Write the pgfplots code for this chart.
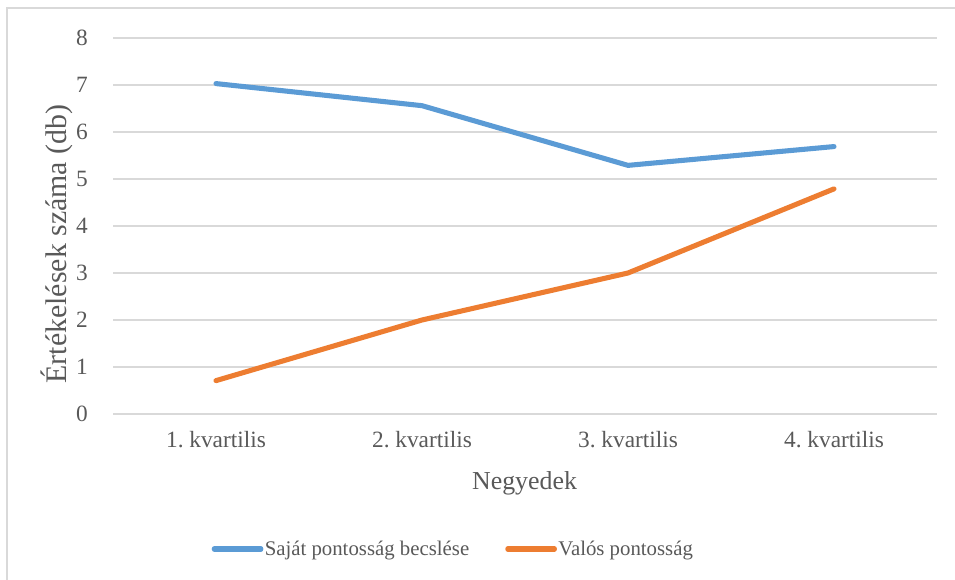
\documentclass[border=0pt]{standalone}
\usepackage{pgfplots}
\pgfplotsset{compat=1.18}
\usepackage{fontspec}
\setmainfont{Liberation Serif}
\frenchspacing
\definecolor{txt}{HTML}{595959}
\definecolor{gridc}{HTML}{D9D9D9}
\definecolor{sblue}{HTML}{5B9BD5}
\definecolor{sorange}{HTML}{ED7D31}
\begin{document}
\begin{tikzpicture}
\useasboundingbox (0,0) rectangle (716.25pt,435pt);
\draw[gridc, line width=1pt] (5.25pt,-5pt) -- (5.25pt,429pt) -- (720pt,429pt);
\begin{axis}[
  at={(84.75pt,124.5pt)}, anchor=south west,
  scale only axis, width=618pt, height=282pt,
  xmin=0.5, xmax=4.5, ymin=0, ymax=8,
  axis line style={draw=none},
  ytick={0,1,2,3,4,5,6,7,8},
  xtick={1,2,3,4},
  xticklabels={1. kvartilis,2. kvartilis,3. kvartilis,4. kvartilis},
  ymajorgrids, grid style={gridc, line width=1.4pt},
  major tick length=0pt,
  /pgf/number format/assume math mode=true,
  tick label style={font=\fontsize{17.5}{20}\selectfont\frenchspacing, text=txt},
  yticklabel style={inner sep=0pt, anchor=east, xshift=-18.75pt},
  xticklabel style={inner sep=0pt, anchor=north, yshift=-12.75pt},
  legend columns=2,
  legend style={draw=none, fill=none, at={(0.4126,-0.359)}, anchor=center,
    font=\fontsize{15.6}{18}\selectfont, text=txt,
    /tikz/every even column/.append style={column sep=26pt},
    nodes={inner sep=1pt}},
  legend image code/.code={\draw[#1, line cap=round] (0pt,0pt) -- (35pt,0pt);},
]
\addplot[sblue, line width=3.8pt, line cap=round, line join=round] coordinates {(1,7.03) (2,6.56) (3,5.29) (4,5.69)};
\addlegendentry{Saját pontosság becslése}
\addplot[sorange, line width=3.8pt, line cap=round, line join=round] coordinates {(1,0.71) (2,2.0) (3,3.0) (4,4.79)};
\addlegendentry{Valós pontosság}
\end{axis}
\node[rotate=90, anchor=base, text=txt, font=\fontsize{22.4}{26}\selectfont, inner sep=0pt] at (49.5pt,252pt) {Értékelések száma (db)};
\node[anchor=base, text=txt, font=\fontsize{19.4}{22}\selectfont, inner sep=0pt] at (393.4pt,67.5pt) {Negyedek};
\end{tikzpicture}
\end{document}
